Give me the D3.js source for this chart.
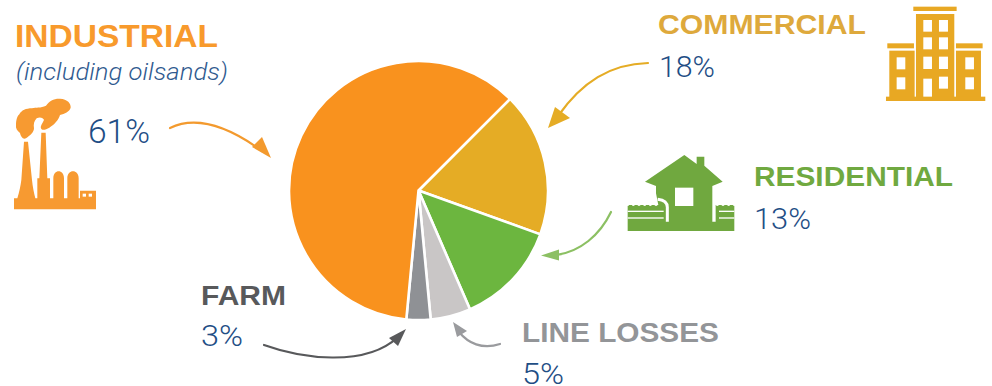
<!DOCTYPE html>
<html>
<head>
<meta charset="utf-8">
<script src="https://cdn.jsdelivr.net/npm/d3@7"></script>
<style>
html,body{margin:0;padding:0;background:#fff}
svg{display:block}
text{font-family:"Liberation Sans",Arial,sans-serif}
.head{font-weight:700}
.pct{font-family:Roboto,"Liberation Sans",sans-serif;font-weight:300;fill:#1f4e85}
.note{font-family:Roboto,"Liberation Sans",sans-serif;font-weight:300;font-style:italic;fill:#2f5a8f}
</style>
</head>
<body>
<svg id="chart" width="992" height="386" viewBox="0 0 992 386"></svg>
<script>
// Electricity use by sector, clockwise from the top right of the pie
const categories = ["Commercial", "Residential", "Line losses", "Farm", "Industrial"];
const shares = [18, 13, 5, 3, 61];
const sliceColors = ["#e5ac25", "#6cb63f", "#c9c6c6", "#8f9195", "#f9921e"];

const headings = ["COMMERCIAL", "RESIDENTIAL", "LINE LOSSES", "FARM", "INDUSTRIAL"];
const headingColors = ["#dea93c", "#70a940", "#939598", "#58595b", "#f89a2c"];
const headingX = [658, 754, 522, 201, 15];
const headingY = [34, 186, 342, 305, 47];
const headingSize = [27, 27, 27, 27, 32];
const headingWidth = [208, 199, 197, 85, 203];

const pctX = [659, 754, 522, 201, 88];
const pctY = [77, 229, 384, 346, 143];
const pctSize = [30, 30, 30, 30, 33];
const pctWidth = [56, 57, 42, 42, 62];

const svg = d3.select("#chart");
const cx = 418.5, cy = 190.5, radius = 129.5;

const pie = d3.pie().sort(null)
  .startAngle(Math.PI / 4)
  .endAngle(Math.PI / 4 + 2 * Math.PI)
  .value(d => d);
const arc = d3.arc().innerRadius(0).outerRadius(radius);

svg.append("g").attr("transform", `translate(${cx},${cy})`)
  .selectAll("path").data(pie(shares)).join("path")
  .attr("d", arc)
  .attr("fill", (d, i) => sliceColors[i])
  .attr("stroke", "#fff")
  .attr("stroke-width", 2.6)
  .attr("stroke-linejoin", "round");

// Sector headings and their percentages
svg.append("g").selectAll("text").data(headings).join("text")
  .attr("class", "head")
  .attr("x", (d, i) => headingX[i])
  .attr("y", (d, i) => headingY[i])
  .attr("font-size", (d, i) => headingSize[i])
  .attr("textLength", (d, i) => headingWidth[i])
  .attr("lengthAdjust", "spacingAndGlyphs")
  .attr("fill", (d, i) => headingColors[i])
  .text(d => d);

svg.append("g").selectAll("text").data(shares).join("text")
  .attr("class", "pct")
  .attr("x", (d, i) => pctX[i])
  .attr("y", (d, i) => pctY[i])
  .attr("font-size", (d, i) => pctSize[i])
  .attr("textLength", (d, i) => pctWidth[i])
  .attr("lengthAdjust", "spacingAndGlyphs")
  .text(d => d + "%");

svg.append("text").attr("class", "note")
  .attr("x", 16).attr("y", 80).attr("font-size", 24.5)
  .attr("textLength", 212).attr("lengthAdjust", "spacingAndGlyphs")
  .text("(including oilsands)");

// Curved leader arrows: stroke path plus a filled head
const arrows = [
  {color: "#f39a2e", line: "M170,128 C195,116 225,124 262,151", head: "M271,158 L252,147 L262,137 Z"},
  {color: "#e5ac25", line: "M648,63 C610,64 582,82 558,116", head: "M548,128 L555,107 L570,118 Z"},
  {color: "#8cc063", line: "M611,212 C600,235 580,252 556,255", head: "M541,255.5 L559,249.5 L559,260.5 Z"},
  {color: "#58595b", line: "M264,345 C300,358 365,368 398,337", head: "M406,329 L389,338 L398,346 Z"},
  {color: "#9a9b9e", line: "M500,344 C482,350 468,343 459,332", head: "M453,322 L457,337 L467,331 Z"}
];
const arrowLayer = svg.append("g");
arrows.forEach(a => {
  arrowLayer.append("path").attr("d", a.line).attr("fill", "none")
    .attr("stroke", a.color).attr("stroke-width", 2.2).attr("stroke-linecap", "round");
  arrowLayer.append("path").attr("d", a.head).attr("fill", a.color);
});

// Factory pictogram
const factory = svg.append("g").attr("transform", "translate(10,95) scale(0.3333)").attr("fill", "#f79a31");
factory.append("path").attr("d",
  "M12,310 H22 C28,290 32,272 34,255 L42,140 H54 L66,255 C68,275 72,295 76,310 H82 V250 H88 L94,113 H107 L112,250 H120 V310 H130 V250 C130,222 162,222 162,250 V310 H172 V250 C172,222 206,222 206,250 V310 H210 V287 H258 V343 H12 Z");
factory.append("path").attr("d",
  "M18,90 C18,75 22,62 28,58 C34,46 48,40 66,40 C78,36 92,40 108,32 C118,18 132,10 150,11 C172,12 184,26 182,38 C178,50 164,56 150,60 C146,74 134,88 118,98 C108,104 96,108 93,100 C90,92 100,82 102,74 C96,66 88,66 80,70 C72,78 70,88 72,100 C72,112 60,122 48,130 C38,134 32,124 30,114 C22,108 16,100 18,90 Z");
[[218, 296], [236, 296]].forEach(w => factory.append("rect")
  .attr("x", w[0]).attr("y", w[1]).attr("width", 10).attr("height", 9).attr("fill", "#fff"));

// Office block pictogram
const tower = svg.append("g").attr("transform", "translate(620,0) scale(0.3333)").attr("fill", "#e8a823");
[[880,20,130,13],[888,42,115,250],[802,130,80,15],[808,152,76,140],[1008,130,80,15],[1008,152,75,140],[798,290,298,13]]
  .forEach(r => tower.append("rect").attr("x", r[0]).attr("y", r[1]).attr("width", r[2]).attr("height", r[3]));
[[910,60,26,35],[957,60,27,35],[910,112,26,36],[957,112,27,36],[910,170,26,37],[957,170,27,37],[910,236,26,54],[957,230,27,36],
 [830,172,26,36],[830,232,26,36],[1036,172,26,36],[1036,232,26,36]]
  .forEach(r => tower.append("rect").attr("x", r[0]).attr("y", r[1]).attr("width", r[2]).attr("height", r[3]).attr("fill", "#fff"));

// House pictogram with its picket fence
const house = svg.append("g").attr("transform", "translate(625,150) scale(0.3333)").attr("fill", "#70a83f");
house.append("path").attr("d",
  "M178,15 L215,42 V20 H238 V47 L293,95 L262,108 V215 H272 V165 H328 V243 H8 V165 H100 L93,130 V108 L60,95 Z");
house.append("rect").attr("x", 150).attr("y", 113).attr("width", 55).attr("height", 55).attr("fill", "#fff");
house.append("path").attr("d", "M98,148 C115,150 127,156 127,172 V215")
  .attr("fill", "none").attr("stroke", "#fff").attr("stroke-width", 9);
[[8,182,108,4],[8,202,108,4],[282,182,46,4],[282,202,46,4]]
  .forEach(r => house.append("rect").attr("x", r[0]).attr("y", r[1]).attr("width", r[2]).attr("height", r[3]).attr("fill", "#fff"));
[8,25,42,59,76,93,277,294,311,328].forEach(x => house.append("circle")
  .attr("cx", x).attr("cy", 163).attr("r", 5).attr("fill", "#fff"));
</script>
</body>
</html>
